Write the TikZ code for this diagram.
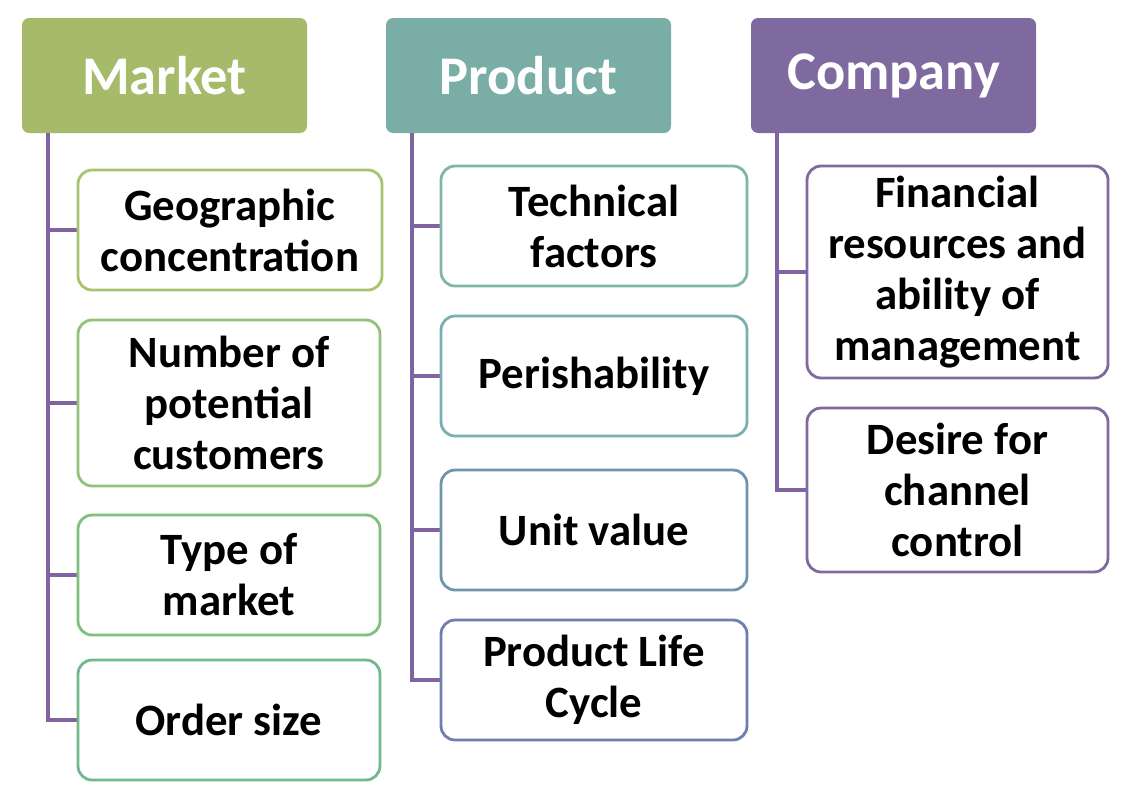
\documentclass[tikz,border=0pt]{standalone}
\usepackage{fontspec}
\setmainfont{Carlito}
\begin{document}
\begin{tikzpicture}[x=0.02cm,y=-0.02cm,
 hdr/.style={rounded corners=4pt,text=white,font=\bfseries\fontsize{31}{34}\selectfont},
 child/.style={draw=#1,line width=1.6pt,fill=white,rounded corners=8pt},
 ctext/.style={font=\bfseries\fontsize{25.5}{29}\selectfont,align=center},
 conn/.style={draw=lnc,line width=2pt}]
\definecolor{lnc}{HTML}{8064A2}
\useasboundingbox (0,0) rectangle (1124,801);
\fill[hdr,fill={rgb,255:red,165;green,187;blue,106}] (22,18) rectangle (307,133);
\node[hdr] (hm) at (164.5,75.5) {Market};
\fill[hdr,fill={rgb,255:red,122;green,173;blue,165}] (386,18) rectangle (671,133);
\node[hdr] (hp) at (528.5,75.5) {Product};
\fill[hdr,fill={rgb,255:red,126;green,106;blue,158}] (751,18) rectangle (1036,133);
\node[hdr] (hc) at (893.5,75.5) {Company};
\newcommand{\mybox}[7]{%
 \draw[child=#6] (#2,#3) rectangle (#4,#5);
 \node[ctext] (#1) at ({(#2+#4)/2},{(#3+#5)/2}) {#7};
}
\definecolor{m1}{HTML}{A9C46E}\definecolor{m2}{HTML}{92C27A}\definecolor{m3}{HTML}{80BF7E}\definecolor{m4}{HTML}{72B88A}
\definecolor{p1}{HTML}{7FB5AA}\definecolor{p2}{HTML}{7AAFB0}\definecolor{p3}{HTML}{6F95AA}\definecolor{p4}{HTML}{6E7FAE}
\definecolor{c1}{HTML}{7E6A9E}
\coordinate (mt) at (48,133); \coordinate (pt) at (412,133); \coordinate (ct) at (777,133);
\draw[conn] (mt) -- (48,720) -- (78,720);
\draw[conn] (48,230) -- (78,230); \draw[conn] (48,403) -- (78,403); \draw[conn] (48,575) -- (78,575);
\draw[conn] (pt) -- (412,680) -- (441,680);
\draw[conn] (412,226) -- (441,226); \draw[conn] (412,376) -- (441,376); \draw[conn] (412,530) -- (441,530);
\draw[conn] (ct) -- (777,490) -- (807,490);
\draw[conn] (777,272) -- (807,272);
\mybox{a1}{78}{170}{382}{290}{m1}{Geographic\\concentration}
\mybox{a2}{78}{320}{380}{486}{m2}{Number of\\potential\\customers}
\mybox{a3}{78}{515}{380}{635}{m3}{Type of\\market}
\mybox{a4}{78}{660}{380}{780}{m4}{Order size}
\mybox{b1}{441}{166}{747}{286}{p1}{Technical\\factors}
\mybox{b2}{441}{316}{747}{436}{p2}{Perishability}
\mybox{b3}{441}{470}{747}{590}{p3}{Unit value}
\mybox{b4}{441}{620}{747}{740}{p4}{Product Life\\Cycle}
\mybox{c1n}{807}{166}{1108}{378}{c1}{Financial\\resources and\\ability of\\management}
\mybox{c2n}{807}{408}{1108}{572}{c1}{Desire for\\channel\\control}
\end{tikzpicture}
\end{document}
